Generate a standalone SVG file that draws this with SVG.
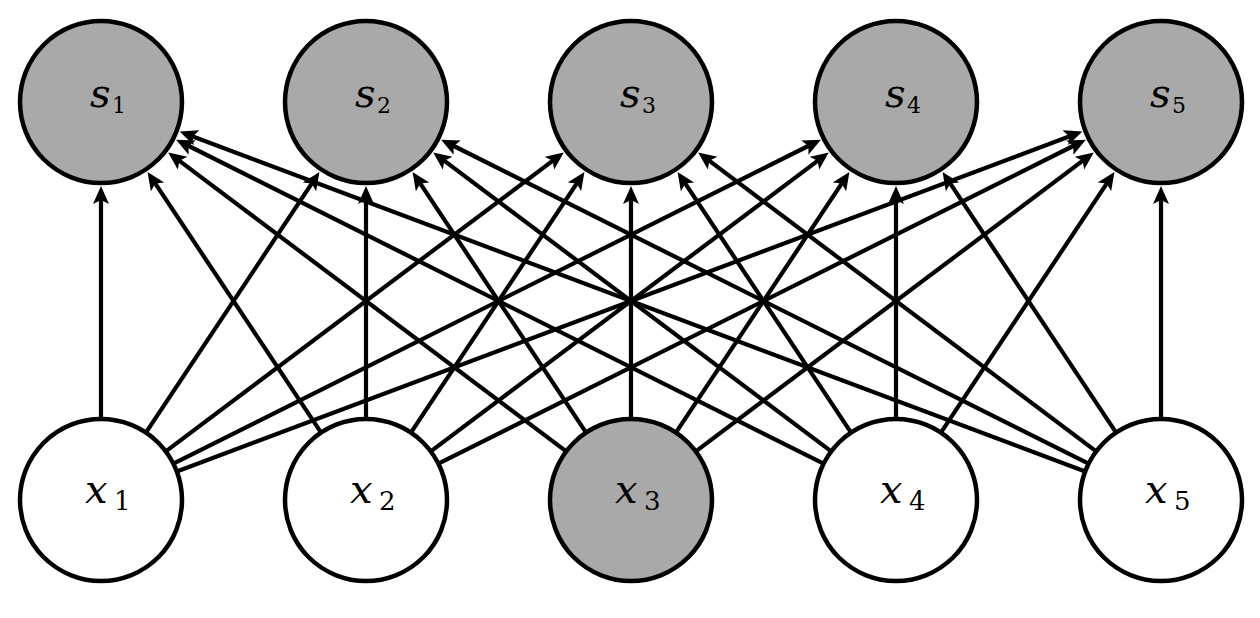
<svg xmlns="http://www.w3.org/2000/svg" width="1260" height="618" viewBox="0 0 1260 618">
  <style>
    .node { stroke: #000; stroke-width: 4.5; }
    .hidden { fill: #a9a9a9; }
    .obs { fill: #fff; }
    .edge { stroke: #000; stroke-width: 4.2; fill: none; marker-end: url(#arrow); }
    text { font-family: "DejaVu Serif", "Liberation Serif", serif; font-style: italic; font-size: 40px; fill: #000; }
    .sub { font-style: normal; }
  </style>
  <defs>
    <marker id="arrow" markerUnits="userSpaceOnUse" markerWidth="20" markerHeight="18" refX="6" refY="8" orient="auto">
      <path d="M0,0 L18,8 L0,16 L4,8 z" fill="#000"/>
    </marker>
  </defs>
  <rect width="1260" height="618" fill="#fff"/>

  <!-- every input x_i feeds every output s_j -->
  <g id="connectors">
    <line class="edge" x1="101" y1="419" x2="101" y2="198"/>
    <line class="edge" x1="145.9" y1="432.6" x2="312.8" y2="181.9"/>
    <line class="edge" x1="165.8" y1="451.4" x2="554.2" y2="159.6"/>
    <line class="edge" x1="173.4" y1="463.7" x2="810.2" y2="145.0"/>
    <line class="edge" x1="176.8" y1="471.5" x2="1071.1" y2="135.7"/>

    <line class="edge" x1="321.1" y1="432.6" x2="154.2" y2="181.9"/>
    <line class="edge" x1="366" y1="419" x2="366" y2="198"/>
    <line class="edge" x1="410.9" y1="432.6" x2="577.8" y2="181.9"/>
    <line class="edge" x1="430.8" y1="451.4" x2="819.2" y2="159.6"/>
    <line class="edge" x1="438.4" y1="463.7" x2="1075.2" y2="145.0"/>

    <line class="edge" x1="566.2" y1="451.4" x2="177.8" y2="159.6"/>
    <line class="edge" x1="586.1" y1="432.6" x2="419.2" y2="181.9"/>
    <line class="edge" x1="631" y1="419" x2="631" y2="198"/>
    <line class="edge" x1="675.9" y1="432.6" x2="842.8" y2="181.9"/>
    <line class="edge" x1="695.8" y1="451.4" x2="1084.2" y2="159.6"/>

    <line class="edge" x1="823.6" y1="463.7" x2="186.8" y2="145.0"/>
    <line class="edge" x1="831.2" y1="451.4" x2="442.8" y2="159.6"/>
    <line class="edge" x1="851.1" y1="432.6" x2="684.2" y2="181.9"/>
    <line class="edge" x1="896" y1="419" x2="896" y2="198"/>
    <line class="edge" x1="940.9" y1="432.6" x2="1107.8" y2="181.9"/>

    <line class="edge" x1="1085.2" y1="471.5" x2="190.9" y2="135.7"/>
    <line class="edge" x1="1088.6" y1="463.7" x2="451.8" y2="145.0"/>
    <line class="edge" x1="1096.2" y1="451.4" x2="707.8" y2="159.6"/>
    <line class="edge" x1="1116.1" y1="432.6" x2="949.2" y2="181.9"/>
    <line class="edge" x1="1161" y1="419" x2="1161" y2="198"/>
  </g>

  <!-- output units -->
  <g id="s1"><circle class="node hidden" cx="101" cy="102" r="81"/><text y="107"><tspan x="90">s</tspan><tspan class="sub" x="112" y="113" font-size="22">1</tspan></text></g>
  <g id="s2"><circle class="node hidden" cx="366" cy="102" r="81"/><text y="107"><tspan x="355">s</tspan><tspan class="sub" x="377" y="113" font-size="22">2</tspan></text></g>
  <g id="s3"><circle class="node hidden" cx="631" cy="102" r="81"/><text y="107"><tspan x="620">s</tspan><tspan class="sub" x="642" y="113" font-size="22">3</tspan></text></g>
  <g id="s4"><circle class="node hidden" cx="896" cy="102" r="81"/><text y="107"><tspan x="885">s</tspan><tspan class="sub" x="907" y="113" font-size="22">4</tspan></text></g>
  <g id="s5"><circle class="node hidden" cx="1161" cy="102" r="81"/><text y="107"><tspan x="1150">s</tspan><tspan class="sub" x="1172" y="113" font-size="22">5</tspan></text></g>

  <!-- input units -->
  <g id="x1"><circle class="node obs" cx="101" cy="500" r="81"/><text y="503"><tspan x="85">x</tspan><tspan class="sub" x="114" y="510" font-size="26">1</tspan></text></g>
  <g id="x2"><circle class="node obs" cx="366" cy="500" r="81"/><text y="503"><tspan x="350">x</tspan><tspan class="sub" x="379" y="510" font-size="26">2</tspan></text></g>
  <g id="x3"><circle class="node hidden" cx="631" cy="500" r="81"/><text y="503"><tspan x="615">x</tspan><tspan class="sub" x="644" y="510" font-size="26">3</tspan></text></g>
  <g id="x4"><circle class="node obs" cx="896" cy="500" r="81"/><text y="503"><tspan x="880">x</tspan><tspan class="sub" x="909" y="510" font-size="26">4</tspan></text></g>
  <g id="x5"><circle class="node obs" cx="1161" cy="500" r="81"/><text y="503"><tspan x="1145">x</tspan><tspan class="sub" x="1174" y="510" font-size="26">5</tspan></text></g>
</svg>
